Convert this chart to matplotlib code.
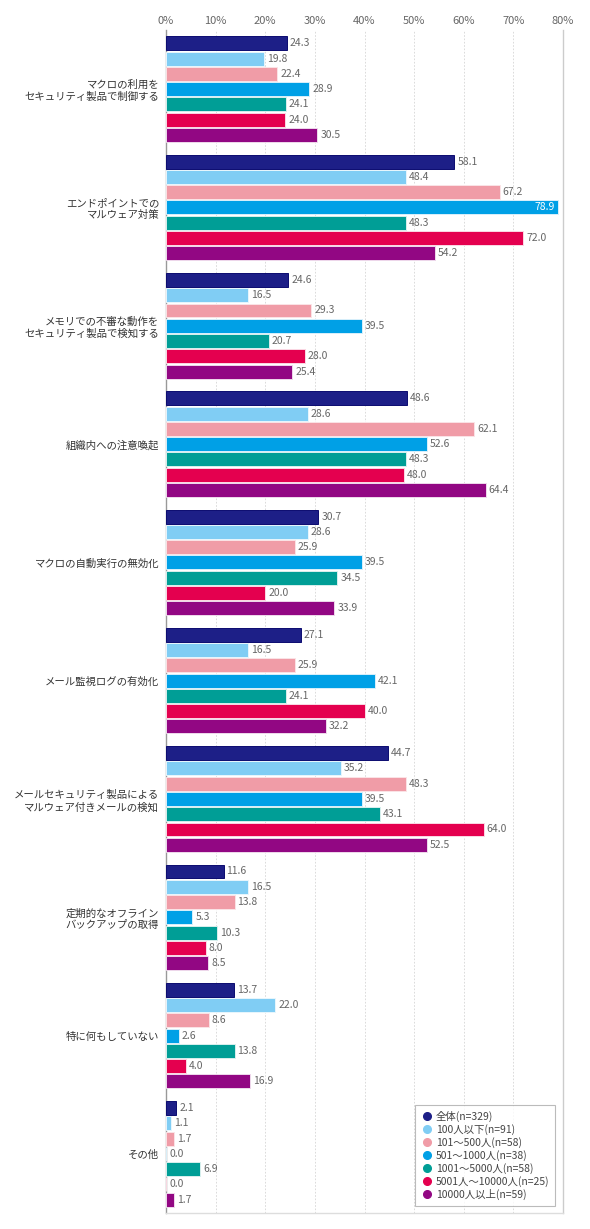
import numpy as np
import matplotlib
matplotlib.use('Agg')
import matplotlib.pyplot as plt
from matplotlib.lines import Line2D

plt.rcParams['font.family'] = ['Noto Sans CJK JP', 'DejaVu Sans']

categories = ['マクロの利用を\nセキュリティ製品で制御する',
              'エンドポイントでの\nマルウェア対策',
              'メモリでの不審な動作を\nセキュリティ製品で検知する',
              '組織内への注意喚起',
              'マクロの自動実行の無効化',
              'メール監視ログの有効化',
              'メールセキュリティ製品による\nマルウェア付きメールの検知',
              '定期的なオフライン\nバックアップの取得',
              '特に何もしていない',
              'その他']

series_names = ['全体(n=329)', '100人以下(n=91)', '101～500人(n=58)', '501～1000人(n=38)',
                '1001～5000人(n=58)', '5001人～10000人(n=25)', '10000人以上(n=59)']

zentai = [24.3, 58.1, 24.6, 48.6, 30.7, 27.1, 44.7, 11.6, 13.7, 2.1]
s100 = [19.8, 48.4, 16.5, 28.6, 28.6, 16.5, 35.2, 16.5, 22.0, 1.1]
s500 = [22.4, 67.2, 29.3, 62.1, 25.9, 25.9, 48.3, 13.8, 8.6, 1.7]
s1000 = [28.9, 78.9, 39.5, 52.6, 39.5, 42.1, 39.5, 5.3, 2.6, 0.0]
s5000 = [24.1, 48.3, 20.7, 48.3, 34.5, 24.1, 43.1, 10.3, 13.8, 6.9]
s10000 = [24.0, 72.0, 28.0, 48.0, 20.0, 40.0, 64.0, 8.0, 4.0, 0.0]
s_over = [30.5, 54.2, 25.4, 64.4, 33.9, 32.2, 52.5, 8.5, 16.9, 1.7]

colors = ['#1d1f87', '#80cdf4', '#f09ca7', '#00a0e6', '#009e96', '#e4004f', '#920783']
edges = ['#0b0b70', '#e8f6fd', '#fbe3e6', '#d9f0fb', '#d9f0ee', '#fbd9e4', '#efd9ec']

all_series = [zentai, s100, s500, s1000, s5000, s10000, s_over]

fig = plt.figure(figsize=(5.9, 12.29), dpi=100)
ax = fig.add_axes([0.2814, 0.0130, 0.6729, 0.9626])

y = np.arange(len(categories))
pitch = 0.129
hgt = 0.118
for j, vals in enumerate(all_series):
    pos = y + (j - 3) * pitch
    ax.barh(pos, vals, height=hgt, color=colors[j], edgecolor=edges[j], linewidth=0.7,
            label=series_names[j], zorder=3)
    for p, v in zip(pos, vals):
        if v > 75:
            ax.text(v - 0.6, p, f'{v:.1f}', va='center', ha='right', fontsize=7.5,
                    color='white', zorder=4)
        else:
            ax.text(v + 0.6, p, f'{v:.1f}', va='center', ha='left', fontsize=7.5,
                    color='#666666', zorder=4)

ax.set_xlim(0, 80)
ax.set_ylim(len(categories) - 0.5, -0.5)
ax.set_xticks(np.arange(0, 81, 10))
ax.set_xticklabels([f'{t}%' for t in range(0, 81, 10)])
ax.xaxis.tick_top()
ax.tick_params(axis='x', length=0, pad=3, labelsize=8, labelcolor='#666666')
ax.set_yticks(y)
ax.set_yticklabels(categories, fontsize=7.5, color='#333333', linespacing=1.25)
ax.tick_params(axis='y', length=0, pad=5)
ax.grid(axis='x', linestyle=(0, (2, 2)), color='#d5d5d5', linewidth=0.6, zorder=0)

ax.spines['top'].set_visible(False)
ax.spines['left'].set_color('#999999')
ax.spines['right'].set_color('#cccccc')
ax.spines['bottom'].set_color('#dddddd')
for s in ['left', 'right', 'bottom']:
    ax.spines[s].set_linewidth(1.0)

handles = [Line2D([0], [0], marker='o', linestyle='', markersize=5.5,
                  markerfacecolor=c, markeredgecolor=c) for c in colors]
leg = ax.legend(handles, series_names, loc='lower right', bbox_to_anchor=(0.98, 0.006),
                borderaxespad=0, fontsize=7.5, frameon=True, fancybox=False,
                handletextpad=0.2, labelspacing=0.2, handlelength=1.2,
                borderpad=0.55)
leg.get_frame().set_edgecolor('#aaaaaa')
leg.get_frame().set_linewidth(0.8)
for t in leg.get_texts():
    t.set_color('#444444')

fig.savefig('out.png', dpi=100)
